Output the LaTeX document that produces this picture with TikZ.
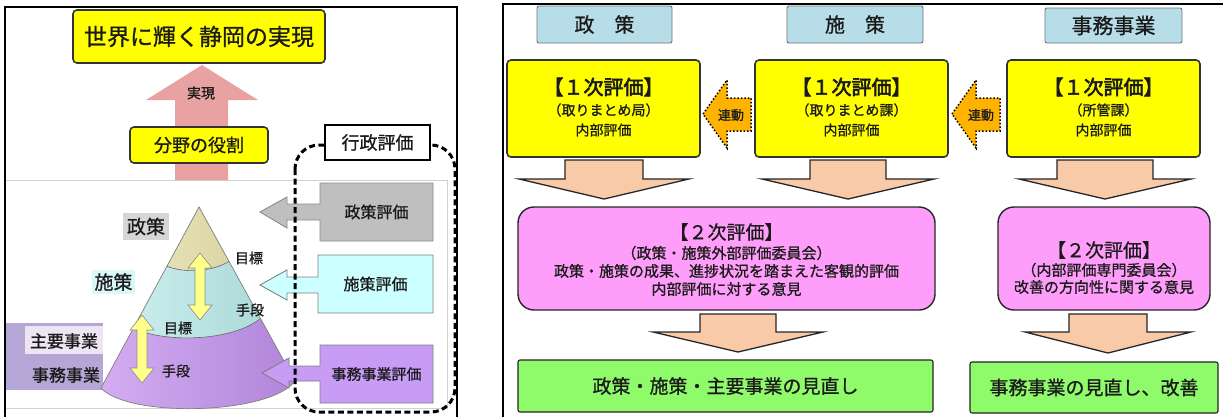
\documentclass[tikz,border=0pt]{standalone}
\usepackage{fontspec}
\newfontfamily\cjk{Noto Sans CJK JP}[FakeBold=0.9]
\newfontfamily\cjkb{Noto Sans CJK JP}[FakeBold=2.8]
\definecolor{ink}{HTML}{1A1A1A}
\definecolor{ybox}{HTML}{FFFF00}
\definecolor{ypale}{HTML}{FFFF8A}
\definecolor{pinkarr}{HTML}{E8A2A2}
\definecolor{hblue}{HTML}{B7DDE8}
\definecolor{peach}{HTML}{F9CAA8}
\definecolor{pinkbox}{HTML}{FF9EFA}
\definecolor{greenbox}{HTML}{8FFA6A}
\definecolor{orangearr}{HTML}{FFB300}
\definecolor{grayev}{HTML}{BFBFBF}
\definecolor{cyanev}{HTML}{CCFFFF}
\definecolor{purpev}{HTML}{C89BF5}
\definecolor{lavbg}{HTML}{B4A7D6}
\definecolor{lavlt}{HTML}{EDE5F3}
\definecolor{grlab}{HTML}{D6D6D6}
\definecolor{cylab}{HTML}{DAF8F8}
\definecolor{beigeL}{HTML}{F0ECC8}
\definecolor{beigeR}{HTML}{D2CA92}
\definecolor{cyanL}{HTML}{D2F3F3}
\definecolor{cyanR}{HTML}{A4D4D4}
\definecolor{purpL}{HTML}{D4AEF2}
\definecolor{purpR}{HTML}{B084DA}
\newcommand{\dnarrow}[6]{%
  \draw[downarr] ({#1-#5},#2) -- ({#1+#5},#2) -- ({#1+#5},#3) -- ({#1+#6},#3)
    -- (#1,#4) -- ({#1-#6},#3) -- ({#1-#5},#3) -- cycle;}
\newcommand{\dblarrow}[3]{%
  \draw[dblarr] (#1,#2) -- ({#1+12},{#2+15}) -- ({#1+5},{#2+15}) -- ({#1+5},{#3-15})
    -- ({#1+12},{#3-15}) -- (#1,#3) -- ({#1-12},{#3-15}) -- ({#1-5},{#3-15})
    -- ({#1-5},{#2+15}) -- ({#1-12},{#2+15}) -- cycle;}
\begin{document}
\begin{tikzpicture}[x=1pt,y=-1pt,
  every node/.style={font=\cjk, text=ink, inner sep=0pt},
  fs/.style={font=\cjk\fontsize{#1}{#1}\selectfont},
  fsb/.style={font=\cjkb\fontsize{#1}{#1}\selectfont},
  yellowbox/.style={draw=black!80, line width=1.6pt, fill=ybox, rounded corners=4pt},
  headbox/.style={draw=black!55, line width=0.9pt, fill=hblue, rounded corners=2pt},
  pinkround/.style={draw=black!85, line width=1.4pt, fill=pinkbox, rounded corners=16pt},
  greenrect/.style={draw=black!85, line width=1.1pt, fill=greenbox, rounded corners=2pt},
  downarr/.style={draw=black!85, line width=1.3pt, fill=peach, line join=miter},
  linkarr/.style={draw=black, line width=1.5pt, dotted, fill=orangearr},
  dblarr/.style={draw=black!45, line width=0.6pt, fill=ypale},
  evarr/.style={line width=0.9pt},
  frame/.style={draw=black, line width=1.4pt},
  bandline/.style={draw=black!60, line width=0.6pt}
]
\useasboundingbox (0,0) rectangle (1223,416);
\fill[white] (0,0) rectangle (1223,416);
\clip (0,0) rectangle (1223,416);

% ================= LEFT PANEL =================
\draw[frame] (5,430) -- (5,7) -- (457,7) -- (457,430);
\draw[black!18, line width=0.8pt] (6,180) -- (447,180) -- (447,408) -- (6,408);

% pink arrow
\fill[pinkarr] (175,180) -- (175,100) -- (146,100) -- (202,65) -- (258,100) -- (228,100) -- (228,180) -- cycle;
\node[fs=14] (jitsugen) at (201,93) {実現};

\node[yellowbox, minimum width=252pt, minimum height=53pt, fs=23] (world) at (199,36.5) {世界に輝く静岡の実現};
\node[yellowbox, minimum width=138pt, minimum height=36pt, fs=18] (bunya) at (199,145) {分野の役割};

% left labels
\fill[lavbg] (6,323) rectangle (103,390);
\node[fill=lavlt, minimum width=78pt, minimum height=28pt] (shuyobox) at (64,340) {};
\node[fs=17] (shuyo) at (64,341) {主要事業};
\node[fs=17] (jimu) at (66,375) {事務事業};
\node[fill=grlab, minimum width=46pt, minimum height=27pt, fs=19] (seisakulab) at (146,226.5) {政策};
\node[fill=cylab, minimum width=43pt, minimum height=24pt, fs=19] (shisakulab) at (113.5,282) {施策};

% cone
\begin{scope}
  \clip (199,207) -- (101,388) .. controls (128,418) and (270,415) .. (295,381) -- cycle;
  \shade[left color=purpL, right color=purpR] (95,200) rectangle (300,420);
  \shade[left color=cyanL, right color=cyanR] (95,200) -- (300,200) -- (300,311) -- (268,311)
     .. controls (242,345) and (148,345) .. (122,321) -- (95,321) -- cycle;
  \shade[left color=beigeL, right color=beigeR] (95,200) -- (300,200) -- (300,256) -- (236,256)
     .. controls (216,275) and (172,275) .. (155,259) -- (95,259) -- cycle;
  \draw[bandline] (268,311) .. controls (242,345) and (148,345) .. (122,321);
  \draw[bandline] (236,256) .. controls (216,275) and (172,275) .. (155,259);
\end{scope}
\draw[black!50, line width=0.7pt] (199,207) -- (101,388) .. controls (128,418) and (270,415) .. (295,381) -- cycle;

\dblarrow{200}{253}{320}
\dblarrow{142}{315}{383}

\node[fs=14] (mokuhyo1) at (249,258) {目標};
\node[fs=14] (shudan1) at (250,310) {手段};
\node[fs=14] (mokuhyo2) at (178,328) {目標};
\node[fs=14] (shudan2) at (176,371) {手段};

% evaluation callouts
\draw[evarr, draw=black!45, fill=grayev] (433,183) -- (320,183) -- (320,204) -- (287,204) -- (287,197)
   -- (260,212) -- (287,228) -- (287,220) -- (320,220) -- (320,241) -- (433,241) -- cycle;
\node[fs=16] (seisakuhyoka) at (376.5,212) {政策評価};
\draw[evarr, draw=black!50, fill=cyanev] (433,255) -- (318,255) -- (318,277) -- (287,277) -- (287,270)
   -- (260,285) -- (287,300) -- (287,293) -- (318,293) -- (318,313) -- (433,313) -- cycle;
\node[fs=16] (shisakuhyoka) at (375.5,284) {施策評価};
\draw[evarr, draw=black!50, fill=purpev] (433,345) -- (320,345) -- (320,366) -- (289,366) -- (289,358)
   -- (262,373) -- (289,388) -- (289,381) -- (320,381) -- (320,403) -- (433,403) -- cycle;
\node[fs=15] (jimuhyoka) at (376.5,374) {事務事業評価};

% dashed group
\draw[line width=3pt, dash pattern=on 6pt off 3.5pt, rounded corners=24pt] (295,145) rectangle (455,412);
\node[draw=black, line width=1.4pt, fill=white, minimum width=105pt, minimum height=35pt, fs=18] (gyosei) at (377.5,142.5) {行政評価};

% ================= RIGHT PANEL =================
\draw[frame] (503,430) -- (503,4) -- (1240,4);

\node[headbox, minimum width=135pt, minimum height=37pt, fs=20] (h1) at (604.5,24.5) {政\hspace{1em}策};
\node[headbox, minimum width=136pt, minimum height=37pt, fs=20] (h2) at (855,24.5) {施\hspace{1em}策};
\node[headbox, minimum width=137pt, minimum height=35pt, fs=21] (h3) at (1113.5,25.5) {事務事業};

\node[yellowbox, minimum width=193pt, minimum height=97pt] (y1) at (603.5,108.5) {};
\node[yellowbox, minimum width=193pt, minimum height=97pt] (y2) at (851.5,108.5) {};
\node[yellowbox, minimum width=193pt, minimum height=97pt] (y3) at (1103.5,108.5) {};
\foreach \c/\t/\n in {603.5/（取りまとめ局）/a, 851.5/（取りまとめ課）/b, 1103.5/（所管課）/c}{
  \node[fsb=20] (first\n) at (\c,87) {【１次評価】};
  \node[fs=14] (org\n) at (\c,110) {\t};
  \node[fs=14] (inner\n) at (\c,130) {内部評価};
}

% link arrows
\draw[linkarr] (703,114) -- (727,80) -- (727,98) -- (751,98) -- (751,131) -- (727,131) -- (727,148) -- cycle;
\node[fs=13] (renA) at (731,115) {連動};
\draw[linkarr] (952,114) -- (976,80) -- (976,98) -- (1000,98) -- (1000,131) -- (976,131) -- (976,148) -- cycle;
\node[fs=13] (renB) at (981,115) {連動};

% down arrows row 1
\dnarrow{604}{160}{179}{199}{39}{85}
\dnarrow{848}{160}{179}{199}{38}{86}
\dnarrow{1105}{160}{179}{199}{48}{86}

% second evaluation
\node[pinkround, minimum width=417pt, minimum height=103pt] (p1) at (726.5,258.5) {};
\node[fs=19] (p1a) at (726.5,232) {【２次評価】};
\node[fs=15] (p1b) at (726.5,253) {（政策・施策外部評価委員会）};
\node[fs=15] (p1c) at (726.5,271) {政策・施策の成果、進捗状況を踏まえた客観的評価};
\node[fs=15] (p1d) at (726.5,289) {内部評価に対する意見};

\node[pinkround, minimum width=212pt, minimum height=103pt] (p2) at (1104,258.5) {};
\node[fs=19] (p2a) at (1104,250) {【２次評価】};
\node[fs=15] (p2b) at (1104,270) {（内部評価専門委員会）};
\node[fs=15] (p2c) at (1104,287) {改善の方向性に関する意見};

% down arrows row 2
\dnarrow{738}{314}{332}{352}{38}{85}
\dnarrow{1108}{314}{332}{353}{39}{83}

% results
\node[greenrect, minimum width=415pt, minimum height=52pt, fs=19] (g1) at (725.5,386) {政策・施策・主要事業の見直し};
\node[greenrect, minimum width=248pt, minimum height=51pt, fs=19] (g2) at (1094,387.5) {事務事業の見直し、改善};
\end{tikzpicture}
\end{document}
